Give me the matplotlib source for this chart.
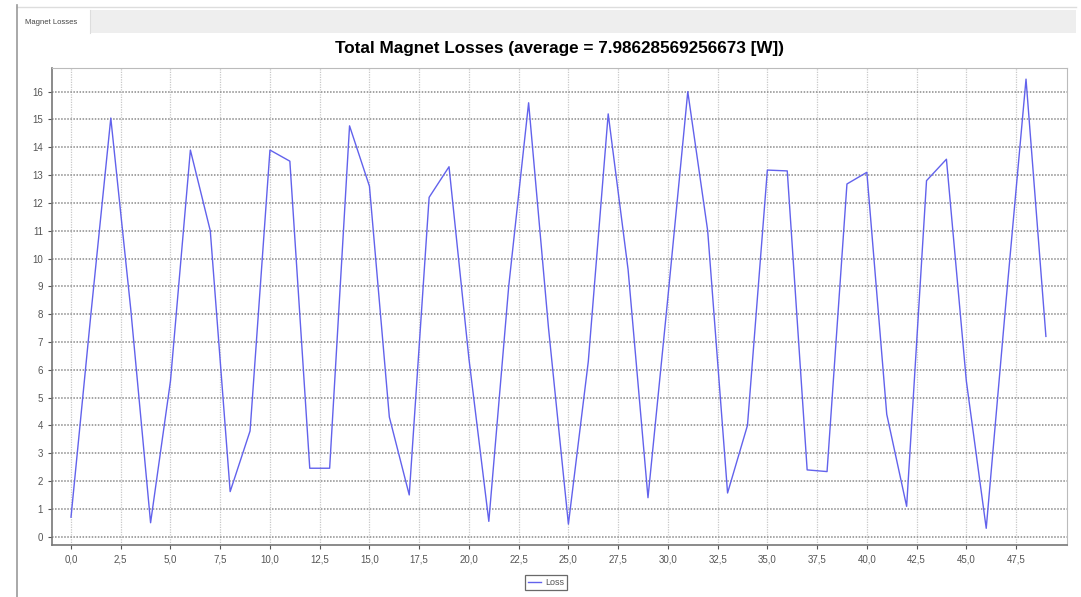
import numpy as np
import matplotlib
matplotlib.use("Agg")
import matplotlib.pyplot as plt
from matplotlib.patches import Rectangle
from matplotlib.lines import Line2D
from matplotlib.ticker import MultipleLocator, FuncFormatter

plt.rcParams['font.family'] = ['Liberation Sans', 'DejaVu Sans']

# data
steps = list(range(50))
loss = [0.7, 8.0, 15.05, 8.2, 0.5, 5.6, 13.9, 11.0, 1.62, 3.8,
        13.9, 13.5, 2.46, 2.46, 14.77, 12.6, 4.3, 1.5, 12.2, 13.3,
        6.4, 0.55, 9.0, 15.6, 7.5, 0.45, 6.3, 15.2, 9.6, 1.4,
        8.6, 16.0, 11.0, 1.57, 4.0, 13.18, 13.15, 2.4, 2.34, 12.68,
        13.1, 4.4, 1.09, 12.8, 13.57, 5.6, 0.3, 8.5, 16.45, 7.2]
x_ticks = np.arange(0, 48, 2.5)
title = "Total Magnet Losses (average = 7.98628569256673 [W])"
tab_label = "Magnet Losses"
series_label = "Loss"

W, H = 1081, 597


def px_rect(x0, y0, x1, y1, **kw):
    # rectangle given in image pixels (origin top left)
    return Rectangle((x0 / W, 1 - y1 / H), (x1 - x0) / W, (y1 - y0) / H,
                     transform=fig.transFigure, **kw)


def px_line(x0, y0, x1, y1, **kw):
    return Line2D([x0 / W, x1 / W], [1 - y0 / H, 1 - y1 / H],
                  transform=fig.transFigure, **kw)


fig = plt.figure(figsize=(W / 100, H / 100), dpi=100)

# panel frame and tab strip
fig.add_artist(px_rect(90, 10, 1076, 33, facecolor='#eeeeee', edgecolor='none'))
fig.add_artist(px_line(17, 7, 1076, 7, color='#dddddd', lw=1))
fig.add_artist(px_line(17, 5, 17, 597, color='#999999', lw=1.2))
fig.add_artist(px_line(90, 10, 90, 33, color='#dddddd', lw=0.8))
fig.text(25 / W, 1 - 22 / H, tab_label, fontsize=5.5, color='#444444', va='center')

ax = fig.add_axes([52 / W, 1 - 545 / H, (1067 - 52) / W, (545 - 68) / H])
ax.plot(steps, loss, color='#6262ec', lw=1.0, label=series_label)

ax.set_xlim(-0.955, 50.06)
ax.set_ylim(-0.3, 16.85)
ax.set_xticks(x_ticks)
ax.yaxis.set_major_locator(MultipleLocator(1))
ax.xaxis.set_major_formatter(FuncFormatter(lambda v, p: f"{v:.1f}".replace('.', ',')))
ax.yaxis.set_major_formatter(FuncFormatter(lambda v, p: f"{v:.0f}"))
ax.tick_params(labelsize=7, colors='#555555', length=3, width=0.8)

ax.grid(axis='y', color='#8a8a8a', linestyle=(0, (1, 1)), lw=1.1)
ax.grid(axis='x', color='#c8c8c8', linestyle=(0, (1, 1)), lw=0.9)

for side in ['left', 'bottom']:
    ax.spines[side].set_color('#777777')
    ax.spines[side].set_linewidth(1.2)
for side in ['top', 'right']:
    ax.spines[side].set_color('#bbbbbb')
    ax.spines[side].set_linewidth(0.8)

ax.set_title(title, fontsize=12.3, fontweight='bold', pad=11)

leg = fig.legend(loc='upper center', bbox_to_anchor=(546 / W, 1 - 570 / H),
                 fontsize=6.5, frameon=True, fancybox=False, handlelength=1.5,
                 handletextpad=0.4, borderpad=0.35, labelcolor='#555555')
leg.get_frame().set_edgecolor('#444444')
leg.get_frame().set_linewidth(0.9)

fig.savefig("out.png", dpi=100)
